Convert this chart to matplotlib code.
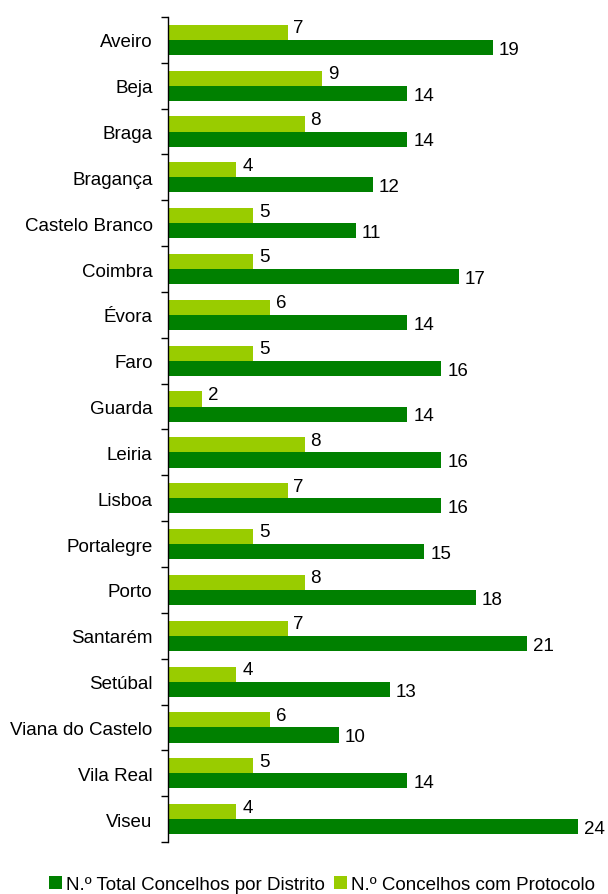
import numpy as np
import matplotlib.pyplot as plt

plt.rcParams['font.family'] = ['Liberation Sans', 'DejaVu Sans']

distritos = ['Aveiro', 'Beja', 'Braga', 'Bragança', 'Castelo Branco', 'Coimbra',
             'Évora', 'Faro', 'Guarda', 'Leiria', 'Lisboa', 'Portalegre', 'Porto',
             'Santarém', 'Setúbal', 'Viana do Castelo', 'Vila Real', 'Viseu']
total_concelhos = [19, 14, 14, 12, 11, 17, 14, 16, 14, 16, 16, 15, 18, 21, 13, 10, 14, 24]
com_protocolo = [7, 9, 8, 4, 5, 5, 6, 5, 2, 8, 7, 5, 8, 7, 4, 6, 5, 4]

verde_escuro = '#008000'
verde_claro = '#99CC00'
fs = 13.5

fig = plt.figure(figsize=(6.08, 8.95), dpi=100)
ax = fig.add_axes([0.276, 0.058, 0.675, 0.922])

y = np.arange(len(distritos))
h = 0.33
b_total = ax.barh(y + h / 2, total_concelhos, height=h, color=verde_escuro,
                  label='N.º Total Concelhos por Distrito')
b_prot = ax.barh(y - h / 2, com_protocolo, height=h, color=verde_claro,
                 label='N.º Concelhos com Protocolo')

# rótulos com os valores à direita de cada barra
for barra, v in zip(b_total, total_concelhos):
    ax.text(v + 0.35, barra.get_y() + barra.get_height() / 2 + 0.04, str(v),
            va='center', ha='left', fontsize=fs)
for barra, v in zip(b_prot, com_protocolo):
    ax.text(v + 0.35, barra.get_y() + barra.get_height() / 2 - 0.1, str(v),
            va='center', ha='left', fontsize=fs)

ax.set_xlim(0, 24)
ax.set_ylim(len(distritos) - 0.5, -0.5)
ax.set_yticks(y)
ax.set_yticklabels(distritos, fontsize=fs)
ax.set_yticks(np.arange(len(distritos) + 1) - 0.5, minor=True)
ax.tick_params(axis='y', which='major', length=0, pad=11)
ax.tick_params(axis='y', which='minor', length=5, direction='out', width=1)
ax.set_xticks([])
for lado in ['top', 'right', 'bottom']:
    ax.spines[lado].set_visible(False)
ax.spines['left'].set_linewidth(1)

fig.legend(handles=[b_total, b_prot], loc='lower center', bbox_to_anchor=(0.53, -0.018),
           ncol=2, frameon=False, fontsize=fs, handlelength=0.7, handleheight=0.7,
           handletextpad=0.2, columnspacing=0.5)

plt.savefig('out.png', dpi=100)
